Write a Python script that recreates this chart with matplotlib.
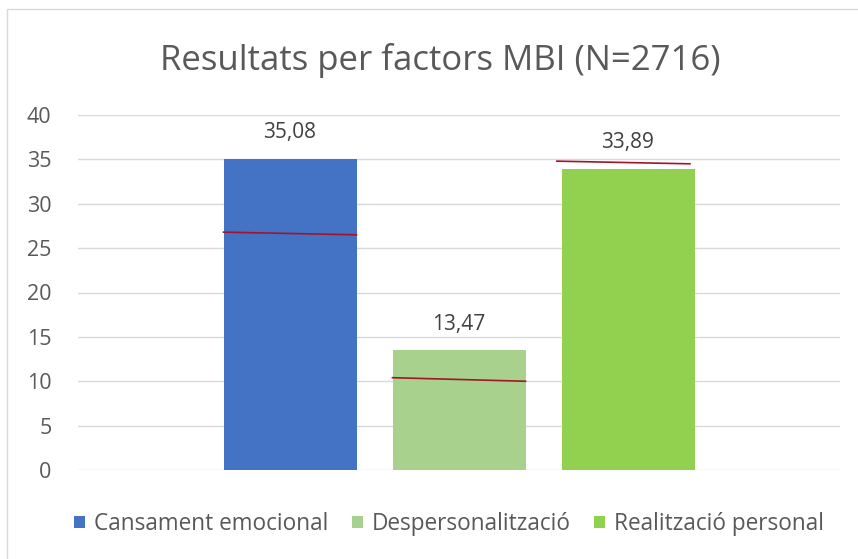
import matplotlib.pyplot as plt
from matplotlib.patches import Rectangle

series = ["Cansament emocional", "Despersonalització", "Realització personal"]
values = [35.08, 13.47, 33.89]
value_labels = ["35,08", "13,47", "33,89"]
colors = ["#4472C4", "#A9D18E", "#92D050"]
# reference lines drawn over each bar (left value, right value)
ref_left = [26.8, 10.4, 34.8]
ref_right = [26.5, 10.0, 34.5]
yticks = [0, 5, 10, 15, 20, 25, 30, 35, 40]

plt.rcParams["font.family"] = ["Open Sans", "DejaVu Sans"]
txt = "#595959"

fig = plt.figure(figsize=(8.58, 5.59), dpi=100)
ax = fig.add_axes([78 / 858, 1 - 470 / 559, (840 - 78) / 858, (470 - 115) / 559])

w = 133 / 762
step = 169 / 762
for i, (name, v, c) in enumerate(zip(series, values, colors)):
    x = (i - 1) * step
    ax.bar(x, v, width=w, color=c, label=name, zorder=2)
    ax.annotate(value_labels[i], (x, v), xytext=(0, 19), textcoords="offset points",
                ha="center", va="center", fontsize=15, color="#404040")
    shift = -0.006 if i == 2 else 0
    ax.plot([x - w / 2 + shift, x + w / 2 + shift], [ref_left[i], ref_right[i]],
            color="#A0152B", lw=1.2, zorder=3)

ax.set_xlim(-0.5, 0.5)
ax.set_ylim(0, 40)
ax.set_yticks(yticks)
ax.set_xticks([])
ax.yaxis.grid(True, color="#D9D9D9", lw=1)
ax.set_axisbelow(True)
for s in ax.spines.values():
    s.set_visible(False)
ax.tick_params(axis="y", length=0, pad=19, labelsize=15.5, labelcolor=txt)

fig.text(440 / 858, 1 - 60 / 559, "Resultats per factors MBI (N=2716)", ha="center", va="center",
         fontsize=25, color=txt)

fig.legend(loc="center", bbox_to_anchor=(449 / 858, 1 - 524 / 559), ncol=3, frameon=False,
           fontsize=16.3, handlelength=0.5, handleheight=0.5, handletextpad=0.4, columnspacing=1.0,
           labelcolor=txt)

fig.patches.append(Rectangle((7 / 858, -0.1), 1.2, 1 - 9 / 559 + 0.1, transform=fig.transFigure,
                             fill=False, edgecolor="#D9D9D9", lw=1))

fig.savefig("out.png")
